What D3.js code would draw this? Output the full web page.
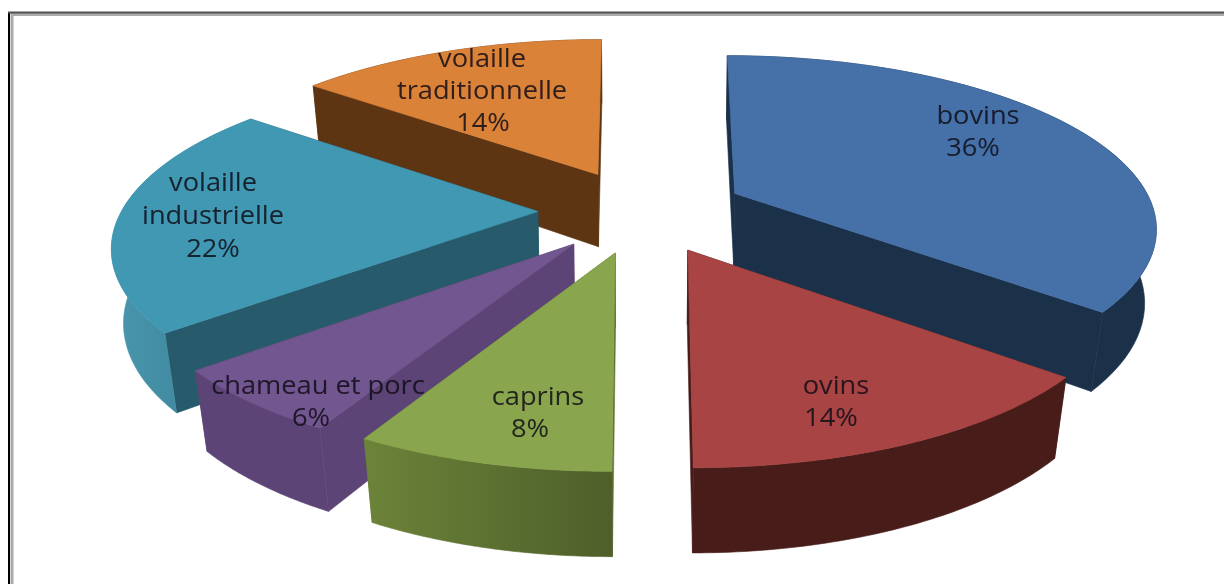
<!DOCTYPE html>
<html><head><meta charset="utf-8">
<script src="https://cdnjs.cloudflare.com/ajax/libs/d3/7.8.5/d3.min.js"></script>
<style>html,body{margin:0;padding:0;background:#fff;overflow:hidden}svg{display:block}</style>
</head><body><svg id="c" width="1224" height="584"></svg>
<script>
const categories = ["bovins","ovins","caprins","chameau et porc","volaille industrielle","volaille traditionnelle"];
const values = [36,14,8,6,21.6,14.4];
const labelLines = [["bovins"],["ovins"],["caprins"],["chameau et porc"],["volaille","industrielle"],["volaille","traditionnelle"]];
const pctLabels = ["36%","14%","8%","6%","22%","14%"];
const topColors = ["#4571a8","#a84443","#89a64e","#72568f","#4098b3","#db8239"];
const wallColors = ["#1b3049","#481c19","#5f7232","#5d4477","#275a6b","#5d3513"];
const outerStops = [["#1b3049","#1b3049"],["#481c19","#481c19"],["#6c8339","#4e5f2a"],["#5d4477","#5d4477"],["#4a96ac","#367f95"],["#5d3513","#5d3513"]];
const labelX = [[978,973],[836,831],[538,530],[318,311],[213,213,213],[482,482,483]];
const labelY = [[117,149],[387,419],[398,430],[387,419],[184,217,250],[60,92,124]];
const drawOrder = [5,0,4,3,1,2];

const cx=642, cy=211, D=5.2, G=870, F=2165, H=390, K=0.13, explode=0.25, blend=0.5, startDeg=0;
const svg=d3.select("#c");
const defs=svg.append("defs");
defs.append("filter").attr("id","soft").attr("x","-5%").attr("y","-20%").attr("width","110%").attr("height","140%")
  .append("feGaussianBlur").attr("stdDeviation",0.5);
// frame
svg.append("path").attr("d","M12,584V14.5H1224").attr("fill","none").attr("stroke","#ababab").attr("stroke-width",3);
svg.append("path").attr("d","M9,584V12.5").attr("fill","none").attr("stroke","#000").attr("stroke-width",2);
svg.append("path").attr("d","M8,12.5H1224").attr("fill","none").attr("stroke","#505050").attr("stroke-width",2);

const pie=d3.pie().sort(null).value(d=>d).startAngle(startDeg*Math.PI/180).endAngle((360+startDeg)*Math.PI/180);
const arcs=pie(values);
function proj(u,v,z){const w=D-v+K*z;return [F*u/w,(G*v+H*z)/w];}
const line=d3.line();
function pt(a,u,v,z){
  const mid=(a.startAngle+a.endAngle)/2, ou=explode*Math.sin(mid), ov=-explode*Math.cos(mid);
  const O=proj(ou,ov,0), p=proj(u+blend*ou,v+blend*ov,z);
  return [cx+(1-blend)*O[0]+p[0], cy+(1-blend)*O[1]+p[1]];
}
function arcPts(a,z){
  return d3.range(0,61).map(i=>{const t=a.startAngle+(a.endAngle-a.startAngle)*i/60;
    return pt(a,Math.sin(t),-Math.cos(t),z);});
}
drawOrder.forEach(i=>{
  const a=arcs[i], t=arcPts(a,0), b=arcPts(a,1), p0=pt(a,0,0,0), p1=pt(a,0,0,1);
  const g=svg.append("g");
  const id="o"+i, gx=d3.extent(t,d=>d[0]);
  const lg=defs.append("linearGradient").attr("id",id).attr("gradientUnits","userSpaceOnUse")
    .attr("x1",gx[0]).attr("x2",gx[1]).attr("y1",0).attr("y2",0);
  lg.append("stop").attr("offset",0).attr("stop-color",outerStops[i][0]);
  lg.append("stop").attr("offset",1).attr("stop-color",outerStops[i][1]);
  g.append("path").attr("d",line([p0,t[0],b[0],p1])+"Z").attr("fill",wallColors[i]).attr("stroke",wallColors[i]).attr("stroke-width",0.6);
  g.append("path").attr("d",line([p0,t[60],b[60],p1])+"Z").attr("fill",wallColors[i]).attr("stroke",wallColors[i]).attr("stroke-width",0.6);
  g.append("path").attr("d",line(t.concat(b.slice().reverse()))+"Z").attr("fill",`url(#${id})`).attr("stroke",`url(#${id})`).attr("stroke-width",0.6);
  g.append("path").attr("d",line([p0].concat(t))+"Z").attr("fill",topColors[i]).attr("stroke",topColors[i]).attr("stroke-width",0.6);
});
// labels
const labels=svg.append("g").attr("filter","url(#soft)");
categories.forEach((c,i)=>{
  const lines=labelLines[i].concat([pctLabels[i]]);
  lines.forEach((s,j)=>{
    labels.append("text").attr("transform",`translate(${labelX[i][j]},${labelY[i][j]}) scale(1.09,1)`)
      .attr("text-anchor","middle").attr("dominant-baseline","middle")
      .attr("font-family","'Open Sans',sans-serif").attr("font-size",25)
      .attr("fill","#0f0a14").attr("fill-opacity",0.85).text(s);
  });
});
</script></body></html>
